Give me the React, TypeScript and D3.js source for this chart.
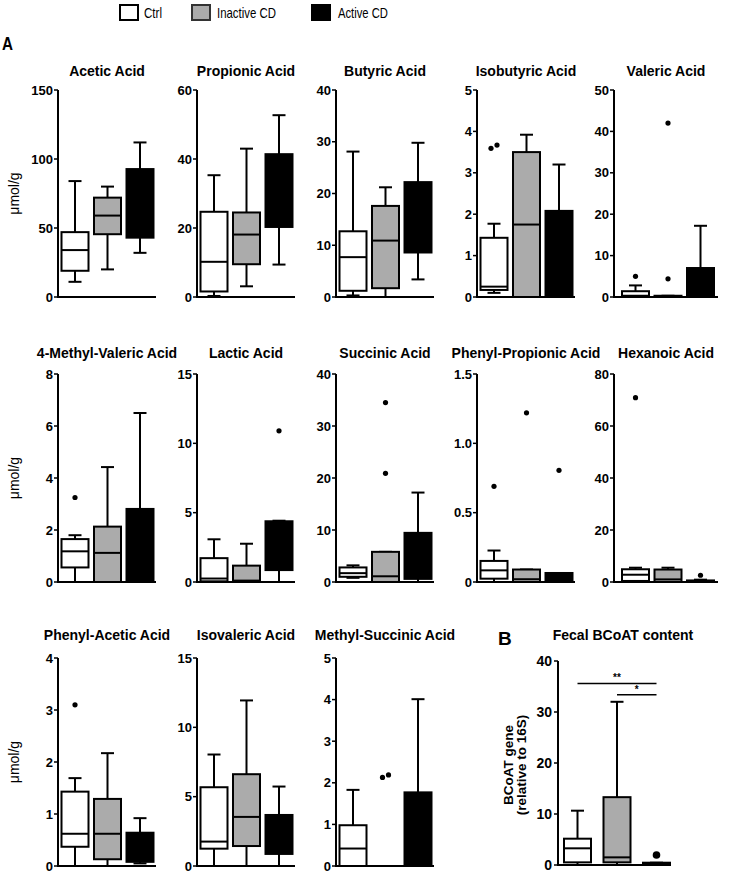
import React from "react";
import * as d3 from "d3";

// ---------- data ----------
const groups = ["Ctrl", "Inactive CD", "Active CD"];
const groupFills = ["#ffffff", "#ababab", "#000000"];

const panelTitles = [
  "Acetic Acid", "Propionic Acid", "Butyric Acid", "Isobutyric Acid", "Valeric Acid",
  "4-Methyl-Valeric Acid", "Lactic Acid", "Succinic Acid", "Phenyl-Propionic Acid", "Hexanoic Acid",
  "Phenyl-Acetic Acid", "Isovaleric Acid", "Methyl-Succinic Acid",
];
const panelMax = [150, 60, 40, 5, 50, 8, 15, 40, 1.5, 80, 4, 15, 5];
const panelTickStep = [50, 20, 10, 1, 10, 2, 5, 10, 0.5, 20, 1, 5, 1];

// [min, q1, median, q3, max] per panel
const ctrlStats = [
  [11, 19, 34, 47, 84], [0.3, 1.6, 10.2, 24.7, 35.3], [0.3, 1.2, 7.7, 12.7, 28.1],
  [0.1, 0.17, 0.25, 1.43, 1.77], [0, 0, 0.3, 1.4, 2.8],
  [0, 0.56, 1.18, 1.65, 1.8], [0, 0.05, 0.25, 1.72, 3.08], [0.8, 1.0, 1.7, 2.8, 3.2],
  [0, 0.024, 0.084, 0.152, 0.227], [0, 0.4, 2.8, 4.9, 5.5],
  [0, 0.37, 0.62, 1.43, 1.69], [0, 1.25, 1.76, 5.68, 8.04], [0, 0, 0.42, 0.98, 1.83],
];
const inactiveStats = [
  [20, 45.5, 59, 72, 80], [3.1, 9.5, 18.1, 24.5, 43], [0, 1.7, 10.9, 17.6, 21.2],
  [0, 0, 1.75, 3.5, 3.92], [0, 0, 0.1, 0.3, 0.3],
  [0, 0, 1.12, 2.13, 4.42], [0, 0, 0.1, 1.18, 2.76], [0, 0, 1.1, 5.8, 5.8],
  [0, 0, 0.02, 0.09, 0.09], [0, 0, 1, 4.8, 5.5],
  [0, 0.13, 0.62, 1.29, 2.17], [0, 1.44, 3.54, 6.62, 11.94], null,
];
const activeStats = [
  [32, 43, 66, 92.7, 112], [9.4, 20.3, 30, 41.4, 52.7], [3.4, 8.6, 15, 22.2, 29.8],
  [0, 0, 1.0, 2.08, 3.2], [0, 0, 2, 7.0, 17.2],
  [0, 0, 1.5, 2.81, 6.5], [0, 0.86, 4.2, 4.38, 4.42], [0, 0.6, 3, 9.45, 17.2],
  [0, 0, 0.02, 0.065, 0.065], [0, 0, 0.3, 0.6, 0.9],
  [0.05, 0.08, 0.3, 0.64, 0.92], [0, 0.87, 2, 3.68, 5.73], [0, 0, 0.5, 1.77, 4.01],
];
// outliers per panel: [groupIndex, value]
const panelOutliers = [
  [], [], [], [[0, 3.59], [0, 3.67]], [[0, 5.0], [1, 42], [1, 4.4]],
  [[0, 3.25]], [[2, 10.9]], [[1, 34.5], [1, 20.9]], [[0, 0.69], [1, 1.22], [2, 0.805]], [[0, 70.9], [2, 2.6]],
  [[0, 3.1]], [], [[1, 2.13], [1, 2.19]],
];

// Panel B
const bTitle = "Fecal BCoAT content";
const bMax = 40;
const bTickStep = 10;
const bStats = [
  [0, 0.52, 3.27, 5.16, 10.65],
  [0, 0.52, 1.5, 13.3, 32],
  [0, 0, 0.2, 0.45, 0.45],
];
const bOutliers = [[2, 1.96]];
const bSignif = [
  { from: 0, to: 2, label: "**", y: 35.6 },
  { from: 1, to: 2, label: "*", y: 33.4 },
];

// ---------- layout ----------
const colX = [58, 197, 336, 477, 614];
const rowY = [
  [90, 297],
  [374, 582],
  [658, 866],
];
const titleBaseline = [76, 358, 640];
const FONT = "Arial, Liberation Sans, Helvetica, sans-serif";

function BoxGroup({ stats, x, bw, y, fill, capW }) {
  if (!stats) return null;
  const [mn, q1, md, q3, mx] = stats;
  const cx = x + bw / 2;
  const sw = 2;
  return (
    <g>
      <line x1={cx} x2={cx} y1={y(mn)} y2={y(mx)} stroke="#000" strokeWidth={sw} />
      <line x1={cx - capW / 2} x2={cx + capW / 2} y1={y(mx)} y2={y(mx)} stroke="#000" strokeWidth={sw} />
      <line x1={cx - capW / 2} x2={cx + capW / 2} y1={y(mn)} y2={y(mn)} stroke="#000" strokeWidth={sw} />
      <rect x={x} y={y(q3)} width={bw} height={Math.max(0.5, y(q1) - y(q3))} fill={fill} stroke="#000" strokeWidth={sw} />
      <line x1={x} x2={x + bw} y1={y(md)} y2={y(md)} stroke="#000" strokeWidth={sw} />
    </g>
  );
}

function Panel({ x0, axisLen, offset, yTop, yBot, title, titleY, max, step, statsList, outliers, yLabel, boxStep, bw, dotR, capW, fmt }) {
  const y = d3.scaleLinear().domain([0, max]).range([yBot, yTop]);
  const xb = d3
    .scaleBand()
    .domain(groups)
    .range([x0 + offset, x0 + offset + 2 * boxStep + bw])
    .paddingInner((boxStep - bw) / boxStep)
    .paddingOuter(0);
  const ticks = d3.range(0, max + step / 2, step);
  const f = d3.format(fmt);
  // spread near-equal outliers horizontally
  const dots = outliers.map(([g, v], i) => {
    const same = outliers.filter(([g2, v2], j) => j !== i && g2 === g && Math.abs(v2 - v) < max * 0.05);
    let dx = 0;
    if (same.length) dx = v < same[0][1] ? -3 : 3;
    return { g, v, dx };
  });
  return (
    <g>
      <text x={x0 + axisLen / 2} y={titleY} textAnchor="middle" fontFamily={FONT} fontWeight="bold" fontSize={14}>
        {title}
      </text>
      {yLabel}
      {statsList.map((s, i) => (
        <BoxGroup key={i} stats={s} x={xb(groups[i])} bw={xb.bandwidth()} y={y} fill={groupFills[i]} capW={capW} />
      ))}
      {dots.map((d, i) => (
        <circle key={i} cx={xb(groups[d.g]) + xb.bandwidth() / 2 + d.dx} cy={y(d.v)} r={dotR} fill="#000" />
      ))}
      <line x1={x0} x2={x0} y1={yTop} y2={yBot + 1} stroke="#000" strokeWidth={2} />
      <line x1={x0 - 1} x2={x0 + axisLen} y1={yBot} y2={yBot} stroke="#000" strokeWidth={2} />
      {ticks.map((t) => (
        <g key={t}>
          <line x1={x0 - 4} x2={x0} y1={y(t)} y2={y(t)} stroke="#000" strokeWidth={1.5} />
          <text x={x0 - 5} y={y(t)} dy="0.36em" textAnchor="end" fontFamily={FONT} fontWeight="bold" fontSize={13}>
            {t === 0 ? "0" : f(t)}
          </text>
        </g>
      ))}
    </g>
  );
}

export default function App() {
  const legendItems = [
    { x: 120, tx: 144, tl: 18 },
    { x: 192, tx: 217, tl: 59 },
    { x: 312, tx: 338, tl: 50 },
  ];
  const umol = (cy, key) => (
    <text key={key} transform={`translate(19,${cy}) rotate(-90)`} textAnchor="middle" fontFamily={FONT} fontSize={14}>
      μmol/g
    </text>
  );

  const panels = panelTitles.map((t, i) => {
    const row = Math.floor(i / 5);
    const col = i % 5;
    const [yTop, yBot] = rowY[row];
    const last = col === 4;
    return (
      <Panel
        key={t}
        x0={colX[col]}
        axisLen={last ? 104 : 98}
        offset={last ? 8 : 3.5}
        yTop={yTop}
        yBot={yBot}
        title={t}
        titleY={titleBaseline[row]}
        max={panelMax[i]}
        step={panelTickStep[i]}
        statsList={[ctrlStats[i], inactiveStats[i], activeStats[i]]}
        outliers={panelOutliers[i]}
        yLabel={col === 0 ? umol((yTop + yBot) / 2, "u" + i) : null}
        boxStep={32.5}
        bw={27}
        dotR={2.6}
        capW={13}
        fmt={panelTickStep[i] < 1 ? ".1f" : "d"}
      />
    );
  });

  // Panel B
  const bx0 = 558;
  const bTop = 661;
  const bBot = 865;
  const by = d3.scaleLinear().domain([0, bMax]).range([bBot, bTop]);
  const bxb = d3
    .scaleBand()
    .domain(groups)
    .range([bx0 + 6, bx0 + 6 + 2 * 39.5 + 27])
    .paddingInner((39.5 - 27) / 39.5)
    .paddingOuter(0);
  const bc = (g) => bxb(groups[g]) + bxb.bandwidth() / 2;

  return (
    <svg width={731} height={873} style={{ position: "absolute", left: 0, top: 0, background: "#fff" }}>
      <rect width={731} height={873} fill="#fff" />
      {/* legend */}
      {legendItems.map((l, i) => (
        <g key={i}>
          <rect x={l.x} y={5} width={18} height={15} fill={groupFills[i]} stroke={i === 1 ? "#333" : "#000"} strokeWidth={2} />
          <text x={l.tx} y={18} fontFamily={FONT} fontSize={15} textLength={l.tl} lengthAdjust="spacingAndGlyphs">
            {groups[i]}
          </text>
        </g>
      ))}
      <text x={2} y={50} fontFamily={FONT} fontWeight="bold" fontSize={19} textLength={11} lengthAdjust="spacingAndGlyphs">
        A
      </text>
      {panels}

      {/* Panel B */}
      <text x={498} y={645} fontFamily={FONT} fontWeight="bold" fontSize={19}>
        B
      </text>
      <text x={623} y={640} textAnchor="middle" fontFamily={FONT} fontWeight="bold" fontSize={14}>
        {bTitle}
      </text>
      <g transform={`translate(513,${(bTop + bBot) / 2 + 2}) rotate(-90)`}>
        <text textAnchor="middle" fontFamily={FONT} fontWeight="bold" fontSize={13.5} y={0}>
          BCoAT gene
        </text>
        <text textAnchor="middle" fontFamily={FONT} fontWeight="bold" fontSize={13.5} y={13}>
          (relative to 16S)
        </text>
      </g>
      {bStats.map((s, i) => (
        <BoxGroup key={i} stats={s} x={bxb(groups[i])} bw={bxb.bandwidth()} y={by} fill={groupFills[i]} capW={13} />
      ))}
      {bOutliers.map(([g, v], i) => (
        <circle key={i} cx={bc(g)} cy={by(v)} r={3.8} fill="#000" />
      ))}
      {bSignif.map((s, i) => (
        <g key={i}>
          <line x1={bc(s.from)} x2={bc(s.to)} y1={by(s.y)} y2={by(s.y)} stroke="#000" strokeWidth={1.5} />
          <text x={(bc(s.from) + bc(s.to)) / 2} y={by(s.y) - 2} textAnchor="middle" fontFamily={FONT} fontWeight="bold" fontSize={10}>
            {s.label}
          </text>
        </g>
      ))}
      <line x1={bx0} x2={bx0} y1={bTop} y2={bBot + 1} stroke="#000" strokeWidth={2} />
      <line x1={bx0 - 1} x2={bx0 + 110} y1={bBot} y2={bBot} stroke="#000" strokeWidth={2} />
      {d3.range(0, bMax + 1, bTickStep).map((t) => (
        <g key={t}>
          <line x1={bx0 - 4} x2={bx0} y1={by(t)} y2={by(t)} stroke="#000" strokeWidth={1.5} />
          <text x={bx0 - 6} y={by(t)} dy="0.36em" textAnchor="end" fontFamily={FONT} fontWeight="bold" fontSize={14}>
            {t}
          </text>
        </g>
      ))}
    </svg>
  );
}
